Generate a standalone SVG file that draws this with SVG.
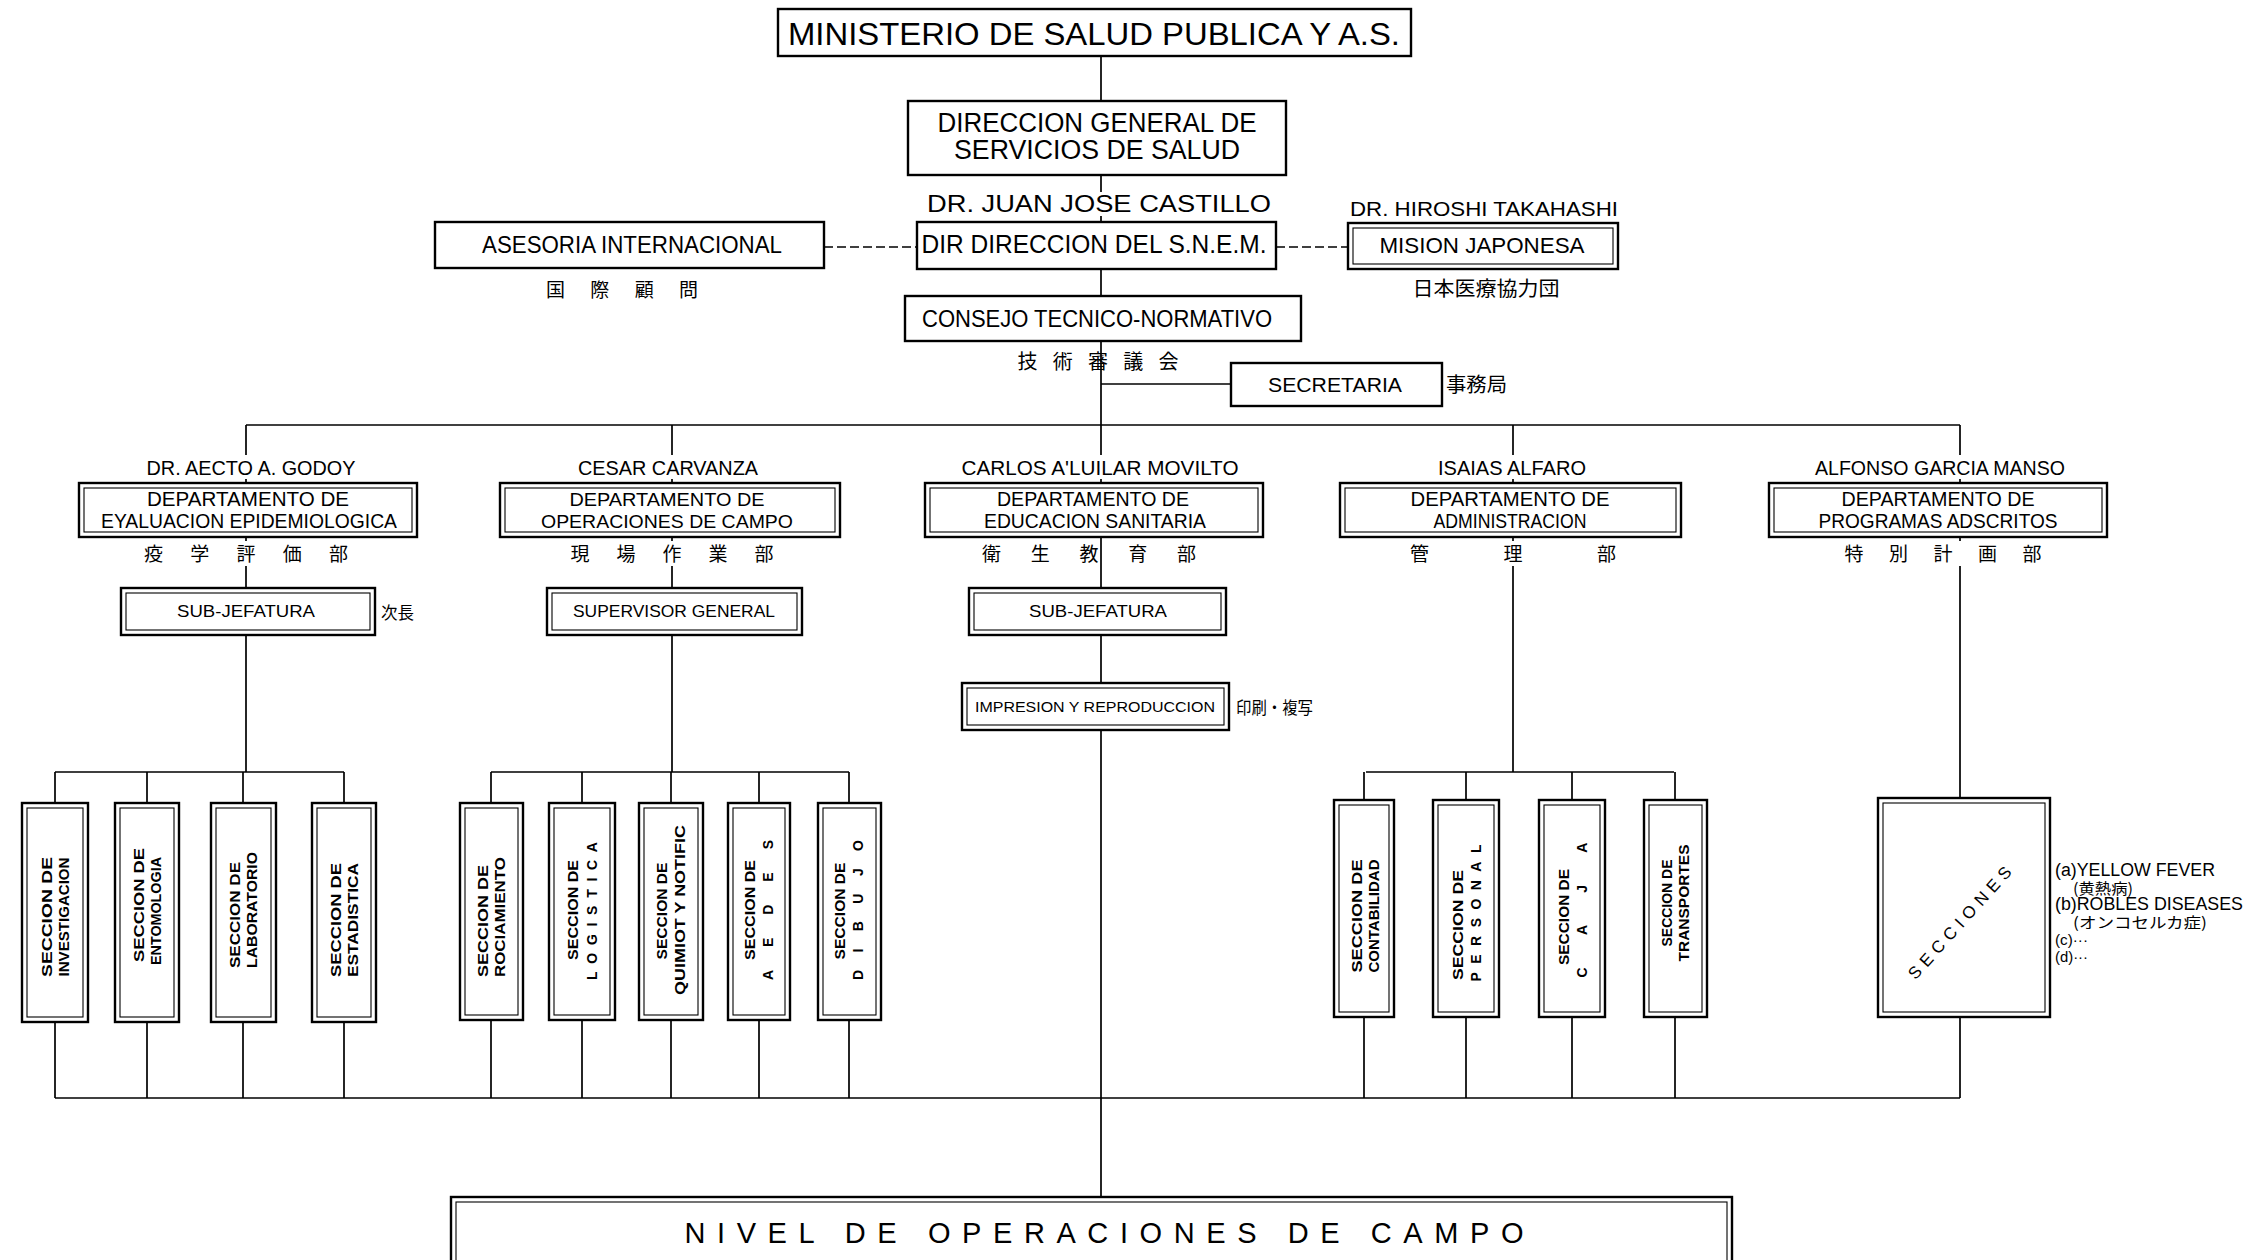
<svg xmlns="http://www.w3.org/2000/svg" width="2253" height="1260" viewBox="0 0 2253 1260">
<style>
.bx{fill:#fff;stroke:#000;stroke-width:2.4}
.in{fill:none;stroke:#000;stroke-width:1.1}
.ln{fill:none;stroke:#000;stroke-width:1.7}
.dl{fill:none;stroke:#000;stroke-width:1.7;stroke-dasharray:9 4}
.t{font-family:"Liberation Sans Narrow","Liberation Sans",Arial,sans-serif;fill:#000;text-anchor:middle}
.s{font-family:"Liberation Sans",Arial,sans-serif;fill:#000;text-anchor:middle}
.sb{font-family:"Liberation Sans",Arial,sans-serif;font-weight:bold;fill:#000;text-anchor:middle;font-size:14px}
.j{font-family:"Noto Sans CJK JP","Noto Sans CJK SC",sans-serif;fill:#000;text-anchor:middle}
.l{text-anchor:start}
</style>
<rect width="2253" height="1260" fill="#fff"/>

<g id="connectors">
<path class="ln" d="M1101 56V101M1101 175V192M1101 216V222M1101 269V296M1101 341V455M1101 479V483M1101 537V588M1101 635V683M1101 730V1197"/>
<path class="ln" d="M1101 384H1231"/>
<path class="dl" d="M824 247H917M1276 247H1348"/>
<path class="ln" d="M246 425H1960"/>
<path class="ln" d="M246 425V455M672 425V455M1513 425V455M1960 425V455M246 479V483M672 479V483M1513 479V483M1960 479V483"/>
<path class="ln" d="M246 566V588M246 635V772M672 566V588M672 635V772M1513 566V772M1960 566V798M246 537V541M672 537V541M1513 537V541M1960 537V541"/>
<path class="ln" d="M55 772H344M491 772H849M1366 772H1674"/>
<path class="ln" d="M55 772V803M147 772V803M243 772V803M344 772V803M491 772V803M582 772V803M671 772V803M759 772V803M849 772V803M1364 772V800M1466 772V800M1572 772V800M1675 772V800"/>
<path class="ln" d="M55 1022V1098M147 1022V1098M243 1022V1098M344 1022V1098M491 1020V1098M582 1020V1098M671 1020V1098M759 1020V1098M849 1020V1098M1364 1017V1098M1466 1017V1098M1572 1017V1098M1675 1017V1098M1960 1017V1098"/>
<path class="ln" d="M55 1098H1960"/>
</g>

<g id="ministerio">
<rect class="bx" x="778" y="9" width="633" height="47" stroke-width="3"/>
<text class="t" x="1094" y="45" font-size="31" textLength="612" lengthAdjust="spacingAndGlyphs">MINISTERIO DE SALUD PUBLICA Y A.S.</text>
</g>

<g id="direccion-general">
<rect class="bx" x="908" y="101" width="378" height="74" stroke-width="3"/>
<text class="t" x="1097" y="132" font-size="27" textLength="319" lengthAdjust="spacingAndGlyphs">DIRECCION GENERAL DE</text>
<text class="t" x="1097" y="159" font-size="27" textLength="286" lengthAdjust="spacingAndGlyphs">SERVICIOS DE SALUD</text>
</g>

<g id="snem">
<text class="t" x="1099" y="212" font-size="24" textLength="344" lengthAdjust="spacingAndGlyphs">DR. JUAN JOSE CASTILLO</text>
<rect class="bx" x="917" y="222" width="359" height="47"/>
<text class="t" x="1094" y="253" font-size="25" textLength="345" lengthAdjust="spacingAndGlyphs">DIR DIRECCION DEL S.N.E.M.</text>
</g>

<g id="asesoria">
<rect class="bx" x="435" y="222" width="389" height="46"/>
<text class="t" x="632" y="253" font-size="23" textLength="300" lengthAdjust="spacingAndGlyphs">ASESORIA INTERNACIONAL</text>
<text class="j" x="622" y="297" font-size="19" textLength="152" lengthAdjust="spacing">国際顧問</text>
</g>

<g id="mision">
<text class="t" x="1484" y="216" font-size="21" textLength="268" lengthAdjust="spacingAndGlyphs">DR. HIROSHI TAKAHASHI</text>
<rect class="bx" x="1348" y="223" width="270" height="46"/>
<rect class="in" x="1353" y="228" width="260" height="36"/>
<text class="t" x="1482" y="253" font-size="22" textLength="205" lengthAdjust="spacingAndGlyphs">MISION JAPONESA</text>
<text class="j" x="1486" y="296" font-size="20" textLength="147" lengthAdjust="spacingAndGlyphs">日本医療協力団</text>
</g>

<g id="consejo">
<rect class="bx" x="905" y="296" width="396" height="45"/>
<text class="t" x="1097" y="327" font-size="23" textLength="350" lengthAdjust="spacingAndGlyphs">CONSEJO TECNICO-NORMATIVO</text>
<text class="j" x="1098" y="369" font-size="20" textLength="161" lengthAdjust="spacing">技術審議会</text>
</g>

<g id="secretaria">
<rect class="bx" x="1231" y="363" width="211" height="43"/>
<text class="s" x="1335" y="392" font-size="20" textLength="134" lengthAdjust="spacingAndGlyphs">SECRETARIA</text>
<text class="j l" x="1446" y="392" font-size="20" textLength="61" lengthAdjust="spacingAndGlyphs">事務局</text>
</g>

<g id="dept-evaluacion">
<text class="t" x="251" y="475" font-size="20" textLength="209" lengthAdjust="spacingAndGlyphs">DR. AECTO A. GODOY</text>
<rect class="bx" x="79" y="483" width="338" height="54"/>
<rect class="in" x="84" y="488" width="328" height="44"/>
<text class="t" x="248" y="506" font-size="20" textLength="202" lengthAdjust="spacingAndGlyphs">DEPARTAMENTO DE</text>
<text class="t" x="249" y="528" font-size="20" textLength="296" lengthAdjust="spacingAndGlyphs">EYALUACION EPIDEMIOLOGICA</text>
<text class="j" x="246" y="561" font-size="19" textLength="204" lengthAdjust="spacing">疫学評価部</text>
</g>

<g id="dept-operaciones">
<text class="t" x="668" y="475" font-size="20" textLength="180" lengthAdjust="spacingAndGlyphs">CESAR CARVANZA</text>
<rect class="bx" x="500" y="483" width="340" height="54"/>
<rect class="in" x="505" y="488" width="330" height="44"/>
<text class="s" x="667" y="506" font-size="19" textLength="195" lengthAdjust="spacingAndGlyphs">DEPARTAMENTO DE</text>
<text class="s" x="667" y="528" font-size="19" textLength="252" lengthAdjust="spacingAndGlyphs">OPERACIONES DE CAMPO</text>
<text class="j" x="672" y="561" font-size="19" textLength="203" lengthAdjust="spacing">現場作業部</text>
</g>

<g id="dept-educacion">
<text class="t" x="1100" y="475" font-size="20" textLength="277" lengthAdjust="spacingAndGlyphs">CARLOS A'LUILAR MOVILTO</text>
<rect class="bx" x="925" y="483" width="338" height="54"/>
<rect class="in" x="930" y="488" width="328" height="44"/>
<text class="t" x="1093" y="506" font-size="20" textLength="192" lengthAdjust="spacingAndGlyphs">DEPARTAMENTO DE</text>
<text class="t" x="1095" y="528" font-size="20" textLength="222" lengthAdjust="spacingAndGlyphs">EDUCACION SANITARIA</text>
<text class="j" x="1089" y="561" font-size="19" textLength="214" lengthAdjust="spacing">衛生教育部</text>
</g>

<g id="dept-administracion">
<text class="t" x="1512" y="475" font-size="20" textLength="148" lengthAdjust="spacingAndGlyphs">ISAIAS ALFARO</text>
<rect class="bx" x="1340" y="483" width="341" height="54"/>
<rect class="in" x="1345" y="488" width="331" height="44"/>
<text class="t" x="1510" y="506" font-size="20" textLength="199" lengthAdjust="spacingAndGlyphs">DEPARTAMENTO DE</text>
<text class="t" x="1510" y="528" font-size="20" textLength="153" lengthAdjust="spacingAndGlyphs">ADMINISTRACION</text>
<text class="j" x="1513" y="561" font-size="19" textLength="206" lengthAdjust="spacing">管理部</text>
</g>

<g id="dept-programas">
<text class="t" x="1940" y="475" font-size="20" textLength="250" lengthAdjust="spacingAndGlyphs">ALFONSO GARCIA MANSO</text>
<rect class="bx" x="1769" y="483" width="338" height="54"/>
<rect class="in" x="1774" y="488" width="328" height="44"/>
<text class="t" x="1938" y="506" font-size="20" textLength="193" lengthAdjust="spacingAndGlyphs">DEPARTAMENTO DE</text>
<text class="t" x="1938" y="528" font-size="20" textLength="239" lengthAdjust="spacingAndGlyphs">PROGRAMAS ADSCRITOS</text>
<text class="j" x="1943" y="561" font-size="19" textLength="197" lengthAdjust="spacing">特別計画部</text>
</g>

<g id="sub-jefatura-1">
<rect class="bx" x="121" y="588" width="254" height="47"/>
<rect class="in" x="126" y="593" width="244" height="37"/>
<text class="s" x="246" y="617" font-size="17" textLength="138" lengthAdjust="spacingAndGlyphs">SUB-JEFATURA</text>
<text class="j l" x="381" y="619" font-size="17" textLength="33" lengthAdjust="spacingAndGlyphs">次長</text>
</g>

<g id="supervisor-general">
<rect class="bx" x="547" y="588" width="255" height="47"/>
<rect class="in" x="552" y="593" width="245" height="37"/>
<text class="s" x="674" y="617" font-size="17" textLength="202" lengthAdjust="spacingAndGlyphs">SUPERVISOR GENERAL</text>
</g>

<g id="sub-jefatura-3">
<rect class="bx" x="969" y="588" width="257" height="47"/>
<rect class="in" x="974" y="593" width="247" height="37"/>
<text class="s" x="1098" y="617" font-size="17" textLength="138" lengthAdjust="spacingAndGlyphs">SUB-JEFATURA</text>
</g>

<g id="impresion">
<rect class="bx" x="962" y="683" width="267" height="47"/>
<rect class="in" x="967" y="688" width="257" height="37"/>
<text class="s" x="1095" y="712" font-size="15" textLength="240" lengthAdjust="spacingAndGlyphs">IMPRESION Y REPRODUCCION</text>
<text class="j l" x="1236" y="714" font-size="17" textLength="77" lengthAdjust="spacingAndGlyphs">印刷・複写</text>
</g>

<g id="sec-investigacion">
<rect class="bx" x="22" y="803" width="66" height="219"/><rect class="in" x="27" y="808" width="56" height="209"/>
<text class="sb" transform="translate(47 917) rotate(-90)" dominant-baseline="central" textLength="120" lengthAdjust="spacingAndGlyphs">SECCION DE</text>
<text class="sb" transform="translate(64 917) rotate(-90)" dominant-baseline="central" textLength="119" lengthAdjust="spacingAndGlyphs">INVESTIGACION</text>
</g>
<g id="sec-entomologia">
<rect class="bx" x="115" y="803" width="64" height="219"/><rect class="in" x="120" y="808" width="54" height="209"/>
<text class="sb" transform="translate(139 905) rotate(-90)" dominant-baseline="central" textLength="114" lengthAdjust="spacingAndGlyphs">SECCION DE</text>
<text class="sb" transform="translate(156 911) rotate(-90)" dominant-baseline="central" textLength="108" lengthAdjust="spacingAndGlyphs">ENTOMOLOGIA</text>
</g>
<g id="sec-laboratorio">
<rect class="bx" x="211" y="803" width="65" height="219"/><rect class="in" x="216" y="808" width="55" height="209"/>
<text class="sb" transform="translate(235 915) rotate(-90)" dominant-baseline="central" textLength="106" lengthAdjust="spacingAndGlyphs">SECCION DE</text>
<text class="sb" transform="translate(252 910) rotate(-90)" dominant-baseline="central" textLength="116" lengthAdjust="spacingAndGlyphs">LABORATORIO</text>
</g>
<g id="sec-estadistica">
<rect class="bx" x="312" y="803" width="64" height="219"/><rect class="in" x="317" y="808" width="54" height="209"/>
<text class="sb" transform="translate(336 920) rotate(-90)" dominant-baseline="central" textLength="114" lengthAdjust="spacingAndGlyphs">SECCION DE</text>
<text class="sb" transform="translate(353 920) rotate(-90)" dominant-baseline="central" textLength="114" lengthAdjust="spacingAndGlyphs">ESTADISTICA</text>
</g>

<g id="sec-rociamiento">
<rect class="bx" x="460" y="803" width="63" height="217"/><rect class="in" x="465" y="808" width="53" height="207"/>
<text class="sb" transform="translate(483 921) rotate(-90)" dominant-baseline="central" textLength="112" lengthAdjust="spacingAndGlyphs">SECCION DE</text>
<text class="sb" transform="translate(500 917) rotate(-90)" dominant-baseline="central" textLength="120" lengthAdjust="spacingAndGlyphs">ROCIAMIENTO</text>
</g>
<g id="sec-logistica">
<rect class="bx" x="549" y="803" width="66" height="217"/><rect class="in" x="554" y="808" width="56" height="207"/>
<text class="sb" transform="translate(573 910) rotate(-90)" dominant-baseline="central" textLength="100" lengthAdjust="spacingAndGlyphs">SECCION DE</text>
<text class="sb" transform="translate(592 911) rotate(-90)" dominant-baseline="central" textLength="138" lengthAdjust="spacing">LOGISTICA</text>
</g>
<g id="sec-quimiot">
<rect class="bx" x="639" y="803" width="64" height="217"/><rect class="in" x="644" y="808" width="54" height="207"/>
<text class="sb" transform="translate(662 911) rotate(-90)" dominant-baseline="central" textLength="97" lengthAdjust="spacingAndGlyphs">SECCION DE</text>
<text class="sb" transform="translate(680 910) rotate(-90)" dominant-baseline="central" textLength="170" lengthAdjust="spacingAndGlyphs">QUIMIOT Y NOTIFIC</text>
</g>
<g id="sec-aedes">
<rect class="bx" x="728" y="803" width="62" height="217"/><rect class="in" x="733" y="808" width="52" height="207"/>
<text class="sb" transform="translate(750 910) rotate(-90)" dominant-baseline="central" textLength="100" lengthAdjust="spacingAndGlyphs">SECCION DE</text>
<text class="sb" transform="translate(768 910) rotate(-90)" dominant-baseline="central" textLength="140" lengthAdjust="spacing">AEDES</text>
</g>
<g id="sec-dibujo">
<rect class="bx" x="818" y="803" width="63" height="217"/><rect class="in" x="823" y="808" width="53" height="207"/>
<text class="sb" transform="translate(840 911) rotate(-90)" dominant-baseline="central" textLength="97" lengthAdjust="spacingAndGlyphs">SECCION DE</text>
<text class="sb" transform="translate(858 910) rotate(-90)" dominant-baseline="central" textLength="140" lengthAdjust="spacing">DIBUJO</text>
</g>

<g id="sec-contabilidad">
<rect class="bx" x="1334" y="800" width="60" height="217"/><rect class="in" x="1339" y="805" width="50" height="207"/>
<text class="sb" transform="translate(1357 916) rotate(-90)" dominant-baseline="central" textLength="113" lengthAdjust="spacingAndGlyphs">SECCION DE</text>
<text class="sb" transform="translate(1374 916) rotate(-90)" dominant-baseline="central" textLength="113" lengthAdjust="spacingAndGlyphs">CONTABILIDAD</text>
</g>
<g id="sec-personal">
<rect class="bx" x="1433" y="800" width="66" height="217"/><rect class="in" x="1438" y="805" width="56" height="207"/>
<text class="sb" transform="translate(1458 925) rotate(-90)" dominant-baseline="central" textLength="110" lengthAdjust="spacingAndGlyphs">SECCION DE</text>
<text class="sb" transform="translate(1476 913) rotate(-90)" dominant-baseline="central" textLength="137" lengthAdjust="spacing">PERSONAL</text>
</g>
<g id="sec-caja">
<rect class="bx" x="1539" y="800" width="66" height="217"/><rect class="in" x="1544" y="805" width="56" height="207"/>
<text class="sb" transform="translate(1564 917) rotate(-90)" dominant-baseline="central" textLength="96" lengthAdjust="spacingAndGlyphs">SECCION DE</text>
<text class="sb" transform="translate(1582 910) rotate(-90)" dominant-baseline="central" textLength="135" lengthAdjust="spacing">CAJA</text>
</g>
<g id="sec-transportes">
<rect class="bx" x="1644" y="800" width="63" height="217"/><rect class="in" x="1649" y="805" width="53" height="207"/>
<text class="sb" transform="translate(1667 903) rotate(-90)" dominant-baseline="central" textLength="87" lengthAdjust="spacingAndGlyphs">SECCION DE</text>
<text class="sb" transform="translate(1684 903) rotate(-90)" dominant-baseline="central" textLength="117" lengthAdjust="spacingAndGlyphs">TRANSPORTES</text>
</g>

<g id="secciones">
<rect class="bx" x="1878" y="798" width="172" height="219"/><rect class="in" x="1883" y="803" width="162" height="209"/>
<text class="s" transform="translate(1960 923) rotate(-48)" dominant-baseline="central" font-size="17" textLength="145" lengthAdjust="spacing">SECCIONES</text>
<text class="s l" x="2055" y="876" font-size="18" textLength="160" lengthAdjust="spacingAndGlyphs">(a)YELLOW FEVER</text>
<text class="j l" x="2073" y="894" font-size="15" textLength="60" lengthAdjust="spacingAndGlyphs">(黄熱病)</text>
<text class="s l" x="2055" y="910" font-size="18" textLength="188" lengthAdjust="spacingAndGlyphs">(b)ROBLES DISEASES</text>
<text class="j l" x="2073" y="928" font-size="15" textLength="134" lengthAdjust="spacingAndGlyphs">(オンコセルカ症)</text>
<text class="s l" x="2055" y="945" font-size="15" textLength="33" lengthAdjust="spacingAndGlyphs">(c)···</text>
<text class="s l" x="2055" y="962" font-size="15" textLength="33" lengthAdjust="spacingAndGlyphs">(d)···</text>
</g>

<g id="nivel">
<rect class="bx" x="451" y="1197" width="1281" height="70"/>
<rect class="in" x="456" y="1202" width="1271" height="70"/>
<text class="t" x="1104" y="1243" font-size="29" textLength="839" lengthAdjust="spacing">NIVEL DE OPERACIONES DE CAMPO</text>
</g>
</svg>
